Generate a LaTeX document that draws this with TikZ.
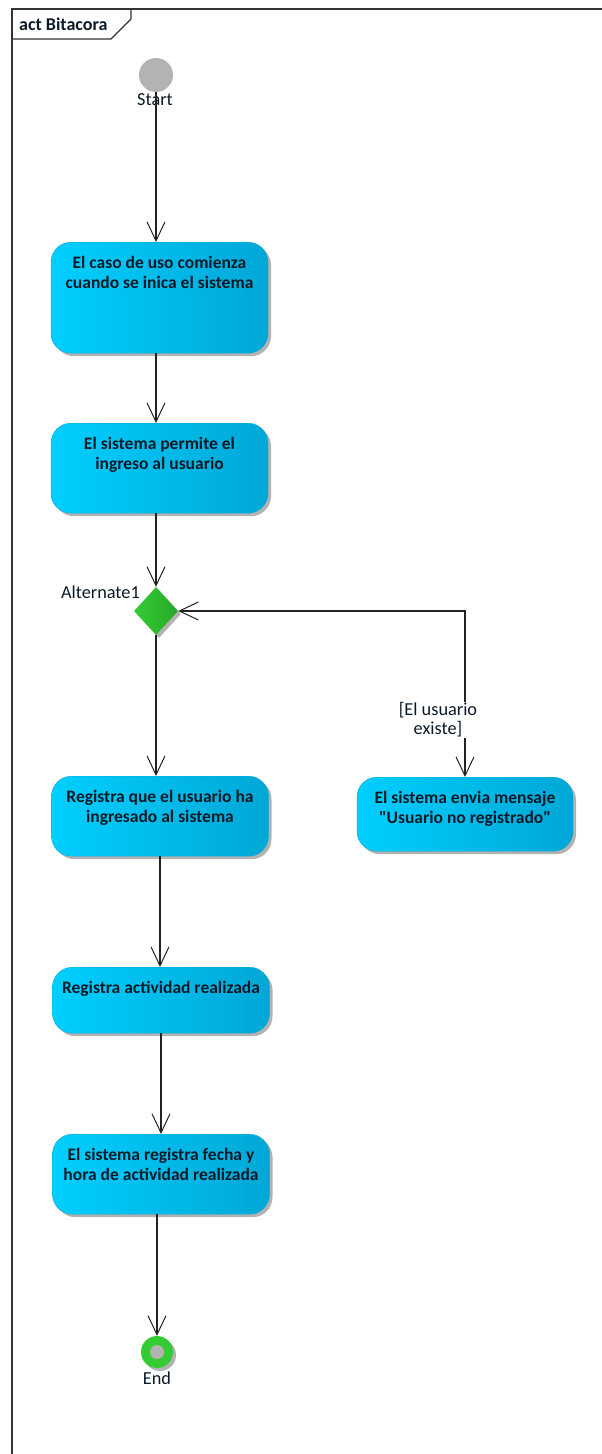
\documentclass[tikz,border=0pt]{standalone}
\usepackage{fontspec}
\setmainfont{Carlito}
\usepackage{tikz}
\usetikzlibrary{
  arrows.meta,
  shapes.geometric,
  positioning,
  shadows
}
\definecolor{actCyanL}{HTML}{00CFFF}
\definecolor{actCyanR}{HTML}{00A7D6}
\definecolor{actGreen}{HTML}{33CC33}
\definecolor{actGreenD}{HTML}{29A829}
\definecolor{actGrey}{HTML}{B3B3B3}
\definecolor{actText}{HTML}{0B1A26}
\definecolor{actLine}{HTML}{222222}
\tikzset{
  actshadow/.style={
    drop shadow={shadow xshift=3pt, shadow yshift=-3pt, fill=black, opacity=0.3}
  },
  action/.style={
    draw=actCyanR, line width=0.4pt, rounded corners=20pt, minimum width=217pt,
    left color=actCyanL, right color=actCyanR, anchor=north, align=center,
    font=\fontsize{17.5}{20}\selectfont\bfseries, text=actText,
    inner ysep=13pt, text height=33pt, actshadow
  },
  initial/.style={circle, fill=actGrey, minimum size=34pt, inner sep=0pt},
  decision/.style={
    diamond, minimum width=44pt, minimum height=48pt, inner sep=0pt,
    left color=actGreen, right color=actGreenD, actshadow
  },
  final/.style={
    circle, fill=actGreen, minimum size=32pt, inner sep=0pt, actshadow,
    path picture={\fill[actGrey] (path picture bounding box.center) circle (7pt);}
  },
  flow/.style={-{Straight Barb[length=19pt, width=18pt, line width=1pt]}, line width=1.1pt, actLine},
  twoway/.style={{Straight Barb[length=19pt, width=18pt, line width=1pt]}-{Straight Barb[length=19pt, width=18pt, line width=1pt]}, line width=1.1pt, actLine},
  lbl/.style={font=\fontsize{18.3}{20}\selectfont, text=actText, inner sep=1pt},
  guard/.style={lbl, fill=white, align=center, font=\fontsize{18.3}{19}\selectfont},
  frame/.style={line width=1.6pt, black!80},
  tab/.style={line width=1.2pt, black!80}
}

\begin{document}
\begin{tikzpicture}[x=1pt, y=-1pt]
  \useasboundingbox (0,0) rectangle (602,1454);
  \draw[frame] (12,1454) -- (12,9) -- (602,9);
  \draw[tab] (12,39) -- (111,39) -- (131,19) -- (131,9);
  \node[lbl, font=\fontsize{18}{20}\selectfont\bfseries, anchor=west] (title) at (18,24) {act Bitacora};

  \node[initial] (start) at (156,75) {};
  \node[lbl] (startlbl) at (155,100) {Start};
  \node[action, text depth=52pt] (caso) at (159.5,242)
    {El caso de uso comienza\\cuando se inica el sistema};
  \node[action, text depth=31pt] (ingreso) at (159.5,423)
    {El sistema permite el\\ingreso al usuario};
  \node[decision] (alt) at (156,611) {};
  \node[lbl, anchor=east] (altlbl) at (141,592) {Alternate1};
  \node[action, text depth=21pt] (registra) at (160,776)
    {Registra que el usuario ha\\ingresado al sistema};
  \node[action, text depth=15pt, minimum width=216pt] (envia) at (465,777)
    {El sistema envia mensaje\\\textquotedbl Usuario no registrado\textquotedbl};
  \node[action, text height=13pt, text depth=27pt] (actividad) at (161,967)
    {Registra actividad realizada};
  \node[action, text depth=21pt] (fecha) at (161,1134)
    {El sistema registra fecha y\\hora de actividad realizada};
  \node[final] (end) at (157,1352) {};
  \node[lbl] (endlbl) at (157,1378) {End};

  \draw[flow] (start) -- (start |- caso.north);
  \draw[flow] (caso.south -| start) -- (start |- ingreso.north);
  \draw[flow] (ingreso.south -| alt) -- (alt.north);
  \draw[flow] (alt) -- (alt |- registra.north);
  \draw[twoway] (alt.east) -- (alt.east -| envia.north) -- (envia.north);
  \draw[flow] (registra.south) -- (registra.south |- actividad.north);
  \draw[flow] (actividad.south) -- (actividad.south |- fecha.north);
  \draw[flow] (fecha.south -| end) -- (end.north);
  \node[guard] (existe) at (438,720) {[El usuario\\existe]};
\end{tikzpicture}
\end{document}
